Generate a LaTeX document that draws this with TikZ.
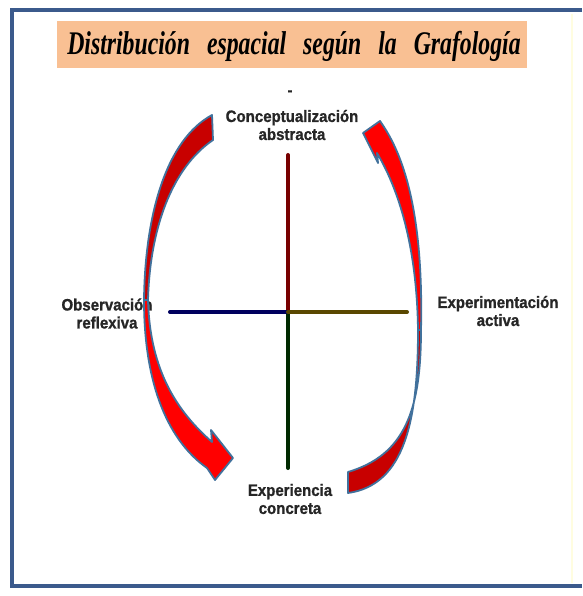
\documentclass[tikz,border=0pt]{standalone}
\usepackage{fontspec}
\setmainfont{Liberation Serif}
\newfontfamily\titulo[FakeStretch=0.72]{Liberation Serif}
\newfontfamily\etiq[FakeStretch=0.91,FakeBold=1]{Liberation Sans}
\usepackage{xcolor}
\usepackage{tikz}
\usetikzlibrary{arrows.meta}
\definecolor{marco}{HTML}{3B5A8C}
\definecolor{naranja}{HTML}{F9C093}
\definecolor{rojo}{HTML}{FF0000}
\definecolor{rojooscuro}{HTML}{C80000}
\definecolor{bordeflecha}{HTML}{41719C}
\definecolor{ejerojo}{HTML}{780000}
\definecolor{ejeverde}{HTML}{002A00}
\definecolor{ejeazul}{HTML}{00005E}
\definecolor{ejeoliva}{HTML}{5A4800}
\tikzset{
etiqueta/.style={font=\etiq\bfseries\fontsize{16.5}{18}\selectfont,align=center,text=black!85,inner sep=0pt},
eje/.style={line width=4pt,line cap=round},
flecha/.style={draw=bordeflecha,line width=1.8pt,line join=round}
}
\begin{document}
\begin{tikzpicture}[x=1pt,y=-1pt]
\useasboundingbox (0,0) rectangle (582,596);
\fill[white](0,0) rectangle (582,596);
\draw[marco,line width=4pt](582,10)--(12,10)--(12,586)--(582,586);
\draw[yellow!12,line width=2pt](572,14)--(572,583);
\node[fill=naranja,minimum width=470pt,minimum height=47pt,inner sep=0pt](cuadro) at (292,44.5){};
\node[font=\titulo\bfseries\itshape\fontsize{33}{36}\selectfont,anchor=base,inner sep=0pt](titulo) at (294,55){\spaceskip=17pt\relax Distribución espacial según la Grafología};
\coordinate (centro) at (288,312);
\coordinate (arriba) at (288,155);
\coordinate (abajo) at (288,468);
\coordinate (izq) at (170,312);
\coordinate (der) at (407,312);
\draw[eje,ejerojo](centro)--(arriba);
\draw[eje,ejeverde](centro)--(abajo);
\draw[eje,ejeazul](centro)--(izq);
\draw[eje,ejeoliva](centro)--(der);
\node[etiqueta](guion) at (290,93){-};
\node[etiqueta](concep) at (292,125){Conceptualización\\abstracta};
\node[etiqueta](observ) at (107,313.5){Observación\\reflexiva};
\node[etiqueta](experim) at (498,311){Experimentación\\activa};
\node[etiqueta](experien) at (290,499){Experiencia\\concreta};
% flecha izquierda
\filldraw[flecha,fill=rojooscuro](212,115) .. controls (166,140) and (145,215) .. (144,300)--(148,300) .. controls (150,228) and (172,168) .. (213,140)--cycle;
\filldraw[flecha,fill=rojo](144,300) .. controls (144,388) and (170,442) .. (207,468)--(215,480)--(233,458)--(211,430)--(212,442) .. controls (178,412) and (150,372) .. (148,300)--cycle;
% flecha derecha
\filldraw[flecha,fill=rojo](421,330) .. controls (423,240) and (412,170) .. (384,127)--(380,121)--(363,133)--(378,163)--(377,153) .. controls (402,195) and (417,255) .. (418,330)--cycle;
\filldraw[flecha,fill=rojooscuro](421,330) .. controls (421,410) and (405,455) .. (348,472)--(348,493) .. controls (405,485) and (418,420) .. (418,330)--cycle;
\end{tikzpicture}
\end{document}
